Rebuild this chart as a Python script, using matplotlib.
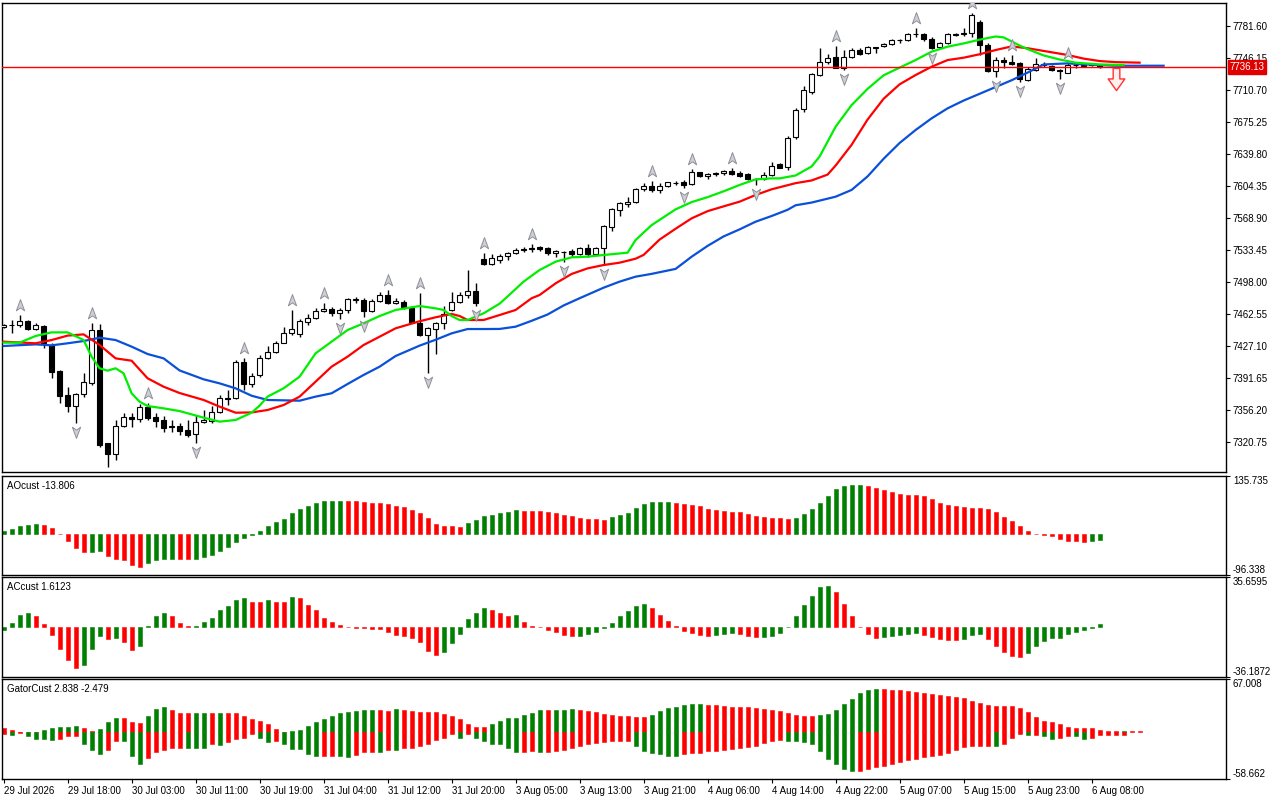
import matplotlib
matplotlib.use('Agg')
import matplotlib.pyplot as plt
import matplotlib.transforms as mtransforms
from matplotlib.path import Path
import numpy as np

plt.rcParams['font.family'] = ['Liberation Sans', 'DejaVu Sans']

# ---- price bars (H1) ----
opens = [7448.5, 7450.2, 7450.0, 7454.4, 7446.3, 7449.2, 7428.2, 7399.8, 7372.8, 7361.0,
         7373.6, 7386.5, 7444.8, 7319.3, 7307.1, 7338.8, 7348.8, 7345.9, 7359.9, 7348.8,
         7345.1, 7338.8, 7338.8, 7334.0, 7329.2, 7343.3, 7344.0, 7354.3, 7369.9, 7369.1,
         7409.7, 7384.6, 7394.5, 7413.4, 7420.8, 7430.8, 7441.9, 7440.0, 7454.0, 7457.8,
         7465.9, 7467.7, 7463.3, 7467.0, 7478.1, 7478.1, 7465.9, 7477.0, 7483.6, 7475.1,
         7476.2, 7469.6, 7452.2, 7439.3, 7445.6, 7452.2, 7467.0, 7476.2, 7483.6, 7488.0,
         7523.1, 7517.6, 7522.4, 7526.8, 7530.5, 7533.4, 7535.3, 7536.4, 7536.0, 7529.8,
         7531.2, 7532.3, 7528.7, 7535.3, 7528.7, 7535.3, 7559.3, 7577.8, 7584.0, 7586.2,
         7600.7, 7604.3, 7599.9, 7604.3, 7607.3, 7609.1, 7606.2, 7619.5, 7615.4, 7618.0,
         7618.4, 7621.3, 7619.1, 7617.3, 7611.7, 7612.1, 7616.5, 7628.7, 7625.0, 7659.0,
         7689.3, 7708.8, 7727.3, 7741.4, 7746.9, 7735.4, 7747.6, 7755.0, 7751.3, 7757.6,
         7759.4, 7761.3, 7765.7, 7766.1, 7773.1, 7772.7, 7766.8, 7758.7, 7762.4, 7772.0,
         7773.1, 7773.5, 7785.7, 7760.5, 7731.7, 7743.9, 7742.1, 7740.2, 7721.8, 7732.9,
         7738.8, 7737.3, 7732.9, 7729.9, 7738.0, 7737.6, 7738.8, 7738.0]
highs = [7451.0, 7456.0, 7461.4, 7455.9, 7452.9, 7450.5, 7430.0, 7400.5, 7382.0, 7374.7,
         7396.8, 7452.2, 7452.0, 7320.0, 7345.1, 7353.2, 7353.2, 7362.9, 7363.6, 7353.2,
         7349.5, 7345.1, 7341.4, 7345.1, 7350.7, 7356.2, 7360.6, 7372.8, 7378.4, 7411.6,
         7413.4, 7396.8, 7417.1, 7427.1, 7432.6, 7447.8, 7467.0, 7456.6, 7462.6, 7468.8,
         7474.4, 7470.7, 7468.8, 7479.9, 7481.7, 7480.6, 7478.8, 7487.3, 7489.1, 7479.9,
         7478.1, 7471.4, 7485.4, 7448.5, 7454.0, 7471.4, 7487.3, 7487.3, 7511.3, 7497.3,
         7529.8, 7529.0, 7528.6, 7531.2, 7535.3, 7537.1, 7540.1, 7537.9, 7537.1, 7533.4,
         7532.3, 7534.2, 7536.4, 7540.1, 7537.1, 7561.1, 7579.6, 7587.0, 7592.5, 7601.8,
         7607.3, 7610.0, 7608.0, 7609.1, 7610.3, 7611.0, 7622.8, 7620.2, 7619.1, 7619.5,
         7622.1, 7623.9, 7620.6, 7618.4, 7612.8, 7620.2, 7630.6, 7629.5, 7659.7, 7690.4,
         7715.1, 7729.9, 7756.9, 7750.6, 7759.4, 7755.0, 7756.9, 7756.9, 7759.8, 7758.7,
         7763.1, 7767.2, 7767.2, 7773.5, 7779.0, 7773.5, 7769.0, 7764.2, 7773.5, 7774.2,
         7779.0, 7795.6, 7788.2, 7762.4, 7746.9, 7747.6, 7749.5, 7742.1, 7736.5, 7745.8,
         7742.1, 7738.4, 7733.6, 7740.2, 7739.5, 7738.8, 7740.2, 7739.5]
lows = [7447.5, 7441.0, 7448.5, 7444.8, 7444.8, 7424.5, 7391.3, 7363.6, 7354.3, 7341.4,
        7371.0, 7383.9, 7315.6, 7293.4, 7300.8, 7337.7, 7337.7, 7343.3, 7345.1, 7337.7,
        7332.2, 7331.5, 7328.5, 7326.6, 7319.3, 7341.4, 7341.4, 7353.2, 7361.7, 7368.4,
        7378.4, 7382.0, 7393.1, 7412.7, 7419.7, 7430.0, 7439.3, 7437.4, 7450.4, 7456.6,
        7464.8, 7460.3, 7456.6, 7463.3, 7475.1, 7458.9, 7464.8, 7476.2, 7473.6, 7473.6,
        7468.5, 7452.2, 7438.2, 7396.8, 7418.2, 7445.6, 7465.9, 7475.1, 7479.9, 7471.4,
        7516.8, 7516.8, 7518.7, 7522.4, 7529.0, 7531.6, 7531.6, 7532.3, 7527.9, 7525.3,
        7520.5, 7526.1, 7527.9, 7526.1, 7527.9, 7516.8, 7554.9, 7571.1, 7581.5, 7585.2,
        7599.2, 7598.1, 7596.2, 7603.6, 7605.5, 7601.8, 7605.5, 7614.0, 7611.7, 7615.4,
        7616.9, 7616.2, 7614.7, 7611.0, 7605.5, 7611.0, 7615.4, 7623.9, 7622.1, 7656.0,
        7686.7, 7706.3, 7726.2, 7739.5, 7734.7, 7732.9, 7745.8, 7749.5, 7750.6, 7751.3,
        7758.0, 7760.2, 7762.4, 7765.4, 7769.8, 7765.4, 7755.7, 7757.6, 7761.3, 7770.5,
        7770.5, 7769.8, 7749.5, 7731.0, 7724.7, 7735.4, 7738.0, 7719.9, 7721.0, 7732.1,
        7736.5, 7732.1, 7722.5, 7729.2, 7735.4, 7735.8, 7737.3, 7735.5]
closes = [7450.0, 7450.6, 7454.4, 7446.3, 7450.0, 7430.1, 7398.7, 7372.1, 7360.6, 7373.6,
          7387.6, 7444.8, 7317.4, 7307.1, 7338.8, 7348.8, 7345.9, 7359.1, 7347.7, 7344.0,
          7336.6, 7337.4, 7333.3, 7328.5, 7343.3, 7344.8, 7354.3, 7369.9, 7368.4, 7409.7,
          7384.6, 7393.9, 7414.2, 7420.8, 7430.8, 7441.9, 7445.6, 7454.8, 7457.8, 7465.9,
          7467.7, 7463.3, 7467.0, 7478.8, 7478.8, 7465.9, 7477.0, 7483.6, 7474.4, 7477.0,
          7469.9, 7452.9, 7439.3, 7446.7, 7452.2, 7462.2, 7476.2, 7483.6, 7488.0, 7474.4,
          7517.6, 7524.2, 7526.8, 7530.5, 7533.4, 7534.6, 7534.6, 7534.5, 7529.8, 7532.3,
          7530.9, 7528.7, 7535.3, 7528.7, 7535.3, 7560.0, 7578.5, 7585.2, 7587.0, 7601.0,
          7604.3, 7599.9, 7604.3, 7608.4, 7608.0, 7605.5, 7619.5, 7615.8, 7618.0, 7618.4,
          7620.6, 7617.3, 7615.8, 7612.1, 7612.1, 7616.5, 7626.9, 7624.7, 7657.9, 7688.5,
          7710.7, 7728.4, 7741.4, 7745.8, 7735.4, 7747.6, 7755.0, 7750.6, 7758.7, 7758.0,
          7761.7, 7766.1, 7766.1, 7772.4, 7772.4, 7766.8, 7757.6, 7762.4, 7772.4, 7772.7,
          7773.8, 7793.8, 7760.5, 7732.1, 7743.9, 7741.7, 7739.5, 7722.5, 7733.6, 7739.1,
          7739.1, 7732.9, 7731.7, 7738.4, 7738.4, 7738.0, 7739.5, 7736.13]

last_price = 7736.13

# fractal bars
up_fractals = [2, 11, 18, 30, 36, 40, 48, 52, 60, 66, 81, 86, 91, 104, 114, 121, 126, 133]
down_fractals = [9, 24, 42, 45, 53, 59, 70, 75, 85, 94, 105, 116, 124, 127, 132]

# sell signal arrow
signal_bar = [139]
signal_price = [7723.0]

# ---- alligator lines (sampled along the curves, already shifted) ----
jaw_bar = [0, 4, 6, 8, 10, 12, 14, 16, 18, 20, 22, 25, 27, 29, 31, 33, 37, 39, 41, 43,
           45, 47, 49, 52, 54, 56, 58, 60, 62, 64, 66, 68, 70, 72, 75, 77, 79, 81, 84, 86,
           88, 90, 92, 94, 96, 98, 99, 101, 104, 106, 108, 110, 112, 114, 116, 118, 120, 122, 124, 126,
           128, 130, 133, 135, 137, 139, 145]
jaw_price = [7427.1, 7428.9, 7427.8, 7430.1, 7432.6, 7436.3, 7433.7, 7426.4, 7418.2, 7413.4,
             7400.0, 7390.2, 7385.7, 7380.2, 7372.0, 7367.3, 7366.5, 7371.0, 7374.7, 7385.0,
             7395.0, 7404.2, 7416.0, 7427.5, 7434.0, 7441.1, 7445.9, 7445.9, 7446.0, 7448.5,
             7455.0, 7462.0, 7472.0, 7480.0, 7491.7, 7498.4, 7503.9, 7507.0, 7512.5, 7526.0,
             7538.0, 7548.5, 7556.3, 7564.8, 7571.1, 7578.0, 7583.0, 7586.0, 7592.5, 7600.0,
             7615.0, 7634.5, 7652.0, 7666.4, 7679.3, 7690.4, 7699.0, 7706.5, 7714.0, 7721.5,
             7730.0, 7739.0, 7740.2, 7739.1, 7738.4, 7737.6, 7737.6]
teeth_bar = [0, 4, 6, 8, 10, 12, 14, 16, 18, 20, 22, 25, 27, 29, 31, 33, 35, 37, 39, 41,
             43, 45, 47, 49, 52, 54, 56, 57, 58, 60, 62, 64, 66, 67, 69, 71, 73, 75, 77, 79,
             80, 82, 84, 86, 88, 90, 92, 94, 96, 99, 101, 103, 104, 106, 108, 110, 112, 114, 116, 118,
             120, 122, 124, 126, 128, 131, 133, 135, 137, 139, 142]
teeth_price = [7431.9, 7430.1, 7433.7, 7438.6, 7440.0, 7428.2, 7413.4, 7410.8, 7391.3, 7382.0,
               7375.0, 7367.3, 7359.9, 7353.2, 7353.5, 7356.2, 7361.7, 7371.0, 7387.6, 7404.2,
               7415.3, 7428.2, 7437.4, 7446.7, 7454.5, 7458.9, 7462.6, 7460.3, 7455.9, 7455.9,
               7461.4, 7467.0, 7480.0, 7483.6, 7496.5, 7506.9, 7513.1, 7516.8, 7519.4, 7523.8,
               7528.0, 7545.0, 7557.0, 7568.5, 7576.5, 7581.8, 7587.0, 7594.4, 7600.7, 7607.5,
               7610.5, 7617.0, 7627.0, 7650.0, 7678.0, 7701.0, 7717.0, 7727.3, 7736.5, 7743.9,
               7746.5, 7750.3, 7755.0, 7759.0, 7757.0, 7752.5, 7749.5, 7745.5, 7742.8, 7741.6,
               7741.0]
lips_bar = [0, 2, 4, 6, 8, 10, 11, 12, 13, 14, 15, 16, 17, 18, 20, 22, 25, 27, 29, 31,
            32, 33, 35, 37, 39, 41, 43, 45, 47, 49, 52, 54, 55, 56, 57, 58, 60, 62, 63, 65,
            67, 69, 71, 73, 75, 78, 79, 81, 84, 86, 88, 90, 92, 94, 96, 97, 99, 101, 102, 104,
            106, 108, 110, 112, 114, 116, 118, 120, 122, 124, 125, 127, 128, 130, 132, 134, 137, 140]
lips_price = [7430.8, 7430.8, 7438.2, 7442.2, 7442.2, 7433.7, 7415.3, 7402.4, 7399.8, 7402.4,
              7396.8, 7374.7, 7365.4, 7360.6, 7358.0, 7355.0, 7347.7, 7343.3, 7345.1, 7353.2,
              7361.0, 7371.0, 7380.2, 7393.1, 7419.0, 7431.9, 7444.8, 7452.2, 7460.3, 7467.0,
              7471.4, 7468.8, 7467.0, 7460.3, 7455.9, 7455.9, 7463.3, 7474.0, 7482.0, 7498.4,
              7511.3, 7520.5, 7525.3, 7526.1, 7527.9, 7530.5, 7544.5, 7561.0, 7578.5, 7586.5,
              7592.0, 7598.5, 7605.5, 7611.7, 7612.8, 7612.8, 7616.0, 7626.0, 7637.0, 7670.0,
              7694.0, 7712.0, 7727.0, 7735.5, 7743.9, 7753.2, 7758.7, 7762.3, 7766.5, 7770.0,
              7769.0, 7760.0, 7756.0, 7749.0, 7744.5, 7741.0, 7739.0, 7738.4]

# ---- oscillators ----
ao = [6.0, 12.5, 19.5, 22.0, 23.0, 21.0, 13.0, -1.0, -16.0, -33.0,
      -42.0, -41.5, -41.0, -52.0, -58.0, -62.0, -73.0, -77.0, -68.0, -62.0,
      -59.0, -58.0, -59.0, -60.0, -58.5, -55.0, -49.0, -41.0, -31.0, -19.0,
      -9.0, -2.0, 6.0, 18.0, 27.0, 34.0, 48.0, 58.0, 66.0, 72.0,
      76.5, 77.0, 77.3, 77.0, 76.0, 74.0, 73.0, 72.0, 70.0, 66.0,
      62.0, 56.0, 48.0, 37.0, 24.0, 18.0, 17.5, 17.0, 26.0, 32.0,
      41.0, 44.5, 48.0, 51.0, 55.0, 54.5, 54.0, 53.0, 52.0, 48.0,
      45.0, 41.0, 37.0, 34.5, 34.0, 33.5, 39.0, 44.0, 49.0, 61.0,
      70.0, 74.0, 74.3, 74.5, 73.5, 69.5, 68.0, 65.0, 58.6, 57.0,
      54.7, 52.0, 50.8, 46.0, 42.0, 40.0, 37.5, 36.7, 35.0, 36.7,
      46.0, 58.6, 72.0, 89.0, 104.7, 111.7, 114.0, 114.5, 112.0, 107.0,
      102.0, 99.0, 94.5, 91.0, 90.6, 88.0, 81.0, 73.4, 68.7, 66.0,
      64.0, 61.0, 60.5, 57.8, 50.8, 40.0, 29.7, 18.8, 6.0, -1.0,
      -1.5, -6.0, -11.7, -16.4, -16.5, -18.8, -16.4, -13.806]
ac = [-2.5, 2.4, 8.4, 9.8, 7.9, 2.2, -5.7, -16.0, -24.0, -29.5,
      -27.3, -16.0, -6.5, -8.6, -8.4, -11.0, -16.5, -13.6, 0.5, 7.7,
      9.8, 7.9, 2.6, 0.2, 0.7, 3.4, 6.2, 12.0, 14.8, 19.4,
      20.8, 18.0, 17.7, 19.4, 17.7, 17.6, 21.3, 20.6, 15.6, 12.0,
      6.0, 3.1, 1.2, -0.5, -1.0, -1.2, -1.7, -1.8, -3.6, -6.0,
      -6.7, -7.9, -11.0, -17.2, -20.4, -18.2, -11.5, -5.3, 5.5, 9.8,
      13.6, 11.7, 9.8, 7.9, 8.4, 3.4, 0.7, -0.3, -2.6, -3.8,
      -5.7, -6.5, -6.4, -5.0, -3.6, -1.2, 2.9, 7.7, 11.3, 14.8,
      16.3, 13.6, 8.4, 4.1, 0.5, -2.9, -4.5, -6.0, -6.5, -5.7,
      -5.0, -4.5, -5.3, -6.7, -7.2, -7.1, -6.5, -4.5, -0.2, 7.7,
      15.6, 22.0, 28.5, 29.2, 24.9, 16.3, 7.9, -0.1, -5.0, -8.1,
      -7.2, -6.7, -6.0, -5.3, -4.8, -6.2, -7.4, -9.1, -9.6, -9.7,
      -8.9, -5.7, -5.3, -8.6, -13.6, -18.2, -20.8, -21.8, -18.9, -13.6,
      -10.1, -8.4, -7.9, -5.3, -3.6, -2.4, -0.7, 1.6123]
gator_up = [5.9, 3.4, 0.5, 0.2, 0.1, 3.4, 5.9, 7.1, 7.2, 8.4,
            5.9, 1.3, 4.6, 12.6, 18.4, 18.3, 13.4, 11.3, 21.0, 29.7,
            32.3, 28.5, 24.7, 24.6, 24.7, 24.9, 24.3, 24.7, 23.9, 23.8,
            20.0, 17.0, 13.8, 10.0, 4.6, 0.5, 1.7, 3.4, 8.4, 12.6,
            17.2, 21.0, 23.9, 25.6, 26.8, 28.5, 28.6, 28.4, 26.8, 28.8,
            28.5, 27.2, 26.0, 25.9, 25.8, 23.5, 21.0, 17.2, 10.9, 7.1,
            7.0, 10.9, 14.7, 18.4, 18.5, 22.2, 24.7, 28.5, 28.4, 28.5,
            28.6, 29.7, 28.5, 27.2, 26.0, 23.5, 22.2, 21.0, 20.9, 19.7,
            19.6, 22.2, 27.2, 31.0, 32.3, 34.8, 36.0, 36.1, 34.8, 34.7,
            33.5, 32.3, 32.2, 32.1, 31.0, 29.7, 28.5, 27.2, 24.7, 22.2,
            21.0, 20.9, 22.2, 23.5, 28.5, 36.0, 42.3, 49.9, 53.6, 54.9,
            54.8, 53.6, 53.5, 52.4, 51.1, 49.9, 48.6, 47.3, 46.1, 44.8,
            43.6, 39.8, 37.3, 34.8, 33.5, 33.4, 33.3, 31.0, 26.0, 19.7,
            14.7, 13.4, 10.9, 7.1, 5.9, 5.8, 5.7, 3.4, 2.1, 2.0,
            2.1, 2.0, 1.9]
gator_down = [-2.5, -2.9, -0.3, -5.0, -8.0, -9.0, -9.3, -8.0, -5.0, -4.2,
              -14.2, -21.8, -26.8, -22.6, -11.3, -11.4, -30.2, -39.4, -31.8, -25.1,
              -21.8, -19.3, -19.2, -19.5, -19.6, -19.8, -15.0, -15.5, -11.7, -8.0,
              -6.7, -2.0, -6.7, -12.5, -10.5, -14.2, -21.0, -21.2, -26.8, -30.2,
              -30.0, -29.9, -30.3, -30.5, -28.0, -25.0, -24.3, -25.1, -22.0, -22.3,
              -20.1, -20.0, -17.6, -15.0, -10.0, -6.7, -2.5, -6.7, -1.7, -6.7,
              -10.5, -14.2, -14.3, -19.3, -24.3, -24.2, -24.1, -24.3, -24.2, -23.0,
              -21.8, -19.3, -16.8, -14.2, -13.0, -11.7, -10.5, -10.4, -10.3, -16.8,
              -23.0, -25.6, -26.8, -29.3, -29.4, -26.8, -25.6, -25.5, -23.0, -22.9,
              -21.8, -20.5, -19.3, -18.0, -16.8, -13.0, -10.5, -9.2, -10.5, -10.6,
              -11.7, -14.2, -23.0, -33.0, -39.4, -45.7, -48.2, -48.1, -45.7, -43.2,
              -41.9, -39.4, -36.9, -34.4, -33.0, -30.6, -29.3, -28.0, -25.6, -21.8,
              -18.0, -16.8, -16.7, -16.6, -16.8, -15.0, -6.7, -1.7, -3.8, -2.9,
              -5.0, -7.9, -6.7, -5.0, -5.1, -7.9, -6.7, -3.8, -3.7, -3.6,
              -2.9]

price_ticks = [7781.60, 7746.15, 7710.70, 7675.25, 7639.80, 7604.35, 7568.90,
               7533.45, 7498.00, 7462.55, 7427.10, 7391.65, 7356.20, 7320.75]
xtick_labels = ['29 Jul 2026', '29 Jul 18:00', '30 Jul 03:00', '30 Jul 11:00', '30 Jul 19:00',
                '31 Jul 04:00', '31 Jul 12:00', '31 Jul 20:00', '3 Aug 05:00', '3 Aug 13:00',
                '3 Aug 21:00', '4 Aug 06:00', '4 Aug 14:00', '4 Aug 22:00', '5 Aug 07:00',
                '5 Aug 15:00', '5 Aug 23:00', '6 Aug 08:00']

GREEN = '#008000'
RED = '#ff0000'
FS = 7


def hist_colors(vals, first, use_abs=False):
    v = np.abs(vals) if use_abs else np.asarray(vals)
    cols = [first]
    for a, b in zip(v[:-1], v[1:]):
        cols.append(GREEN if b > a else RED)
    return cols


def edge_labels(ax, lo, hi, fmt):
    ax.yaxis.tick_right()
    ax.set_ylim(lo, hi)
    ax.set_yticks([lo, hi])
    ax.set_yticklabels([fmt.format(lo), fmt.format(hi)])
    labs = ax.get_yticklabels()
    labs[0].set_va('bottom')
    labs[1].set_va('top')
    ax.tick_params(axis='y', length=3, pad=2, labelsize=FS)


fig = plt.figure(figsize=(12.8, 8), dpi=100)
L, W = 2 / 1280, 1224 / 1280
ax = fig.add_axes([L, 1 - 472 / 800, W, 469 / 800])
ax_ao = fig.add_axes([L, 1 - 575 / 800, W, 99 / 800])
ax_ac = fig.add_axes([L, 1 - 677 / 800, W, 100 / 800])
ax_gt = fig.add_axes([L, 1 - 779 / 800, W, 100 / 800])
xlim = (-0.2, -0.2 + 1224 / 8)

# ---- main chart ----
n = len(opens)
x = np.arange(n)
o, h, l, c = map(np.array, (opens, highs, lows, closes))
ax.vlines(x, l, h, color='black', lw=1, zorder=2)
bull = c >= o
body_lo = np.minimum(o, c)
body_h = np.maximum(np.abs(c - o), 0.3)
ax.bar(x[bull], body_h[bull], bottom=body_lo[bull], width=0.6,
       color='white', edgecolor='black', lw=0.8, zorder=3)
ax.bar(x[~bull], body_h[~bull], bottom=body_lo[~bull], width=0.6,
       color='black', edgecolor='black', lw=0.8, zorder=3)

ax.plot(jaw_bar, jaw_price, color='#0a50d8', lw=1.6, zorder=4)
ax.plot(teeth_bar, teeth_price, color='#ff0000', lw=1.6, zorder=4)
ax.plot(lips_bar, lips_price, color='#00ee00', lw=1.6, zorder=4)

ax.axhline(last_price, color='#ff0000', lw=1, zorder=5)

# fractal arrows
up_path = Path([(0, 1), (0.7, -0.9), (0, -0.4), (-0.7, -0.9), (0, 1)],
               [Path.MOVETO, Path.LINETO, Path.LINETO, Path.LINETO, Path.CLOSEPOLY])
dn_path = Path([(0, -1), (0.7, 0.9), (0, 0.4), (-0.7, 0.9), (0, -1)],
               [Path.MOVETO, Path.LINETO, Path.LINETO, Path.LINETO, Path.CLOSEPOLY])
tr_up = mtransforms.offset_copy(ax.transData, fig=fig, x=0, y=10, units='dots')
tr_dn = mtransforms.offset_copy(ax.transData, fig=fig, x=0, y=-9, units='dots')
ax.plot(up_fractals, h[up_fractals], ls='none', marker=up_path, ms=8.5,
        mfc='#cfd0d6', mec='#8e9098', mew=0.7, transform=tr_up, zorder=6)
ax.plot(down_fractals, l[down_fractals], ls='none', marker=dn_path, ms=8.5,
        mfc='#cfd0d6', mec='#8e9098', mew=0.7, transform=tr_dn, zorder=6)

# sell signal
sig_path = Path([(-0.3, 1), (0.3, 1), (0.3, 0.05), (0.75, 0.05), (0, -1),
                 (-0.75, 0.05), (-0.3, 0.05), (-0.3, 1)],
                [Path.MOVETO] + [Path.LINETO] * 6 + [Path.CLOSEPOLY])
ax.plot(signal_bar, signal_price, ls='none', marker=sig_path, ms=16,
        mfc='#fff0f0', mec='#ff3030', mew=1.0, zorder=6)

ax.set_xlim(*xlim)
ax.set_ylim(7287.5, 7807.1)
ax.set_xticks([])
ax.yaxis.tick_right()
ax.set_yticks(price_ticks)
ax.set_yticklabels([f'{v:.2f}' for v in price_ticks])
ax.tick_params(axis='y', length=3, pad=2, labelsize=FS)
ax.text(1.003, last_price, f'{last_price:.2f}', color='white', fontsize=FS,
        ha='left', va='center', clip_on=False, zorder=10,
        transform=mtransforms.blended_transform_factory(ax.transAxes, ax.transData),
        bbox=dict(boxstyle='square,pad=0.18', fc='#e00000', ec='#e00000'))

# ---- AO ----
ax_ao.bar(np.arange(len(ao)), ao, width=0.5, color=hist_colors(ao, GREEN),
          edgecolor=hist_colors(ao, GREEN), lw=0.4)
ax_ao.set_xlim(*xlim)
ax_ao.set_xticks([])
edge_labels(ax_ao, -96.338, 135.735, '{:.3f}')
ax_ao.text(0.004, 0.95, 'AOcust -13.806', transform=ax_ao.transAxes,
           fontsize=FS, va='top', ha='left')

# ---- AC ----
ax_ac.bar(np.arange(len(ac)), ac, width=0.5, color=hist_colors(ac, GREEN),
          edgecolor=hist_colors(ac, GREEN), lw=0.4)
ax_ac.set_xlim(*xlim)
ax_ac.set_xticks([])
edge_labels(ax_ac, -36.1872, 35.6595, '{:.4f}')
ax_ac.text(0.004, 0.95, 'ACcust 1.6123', transform=ax_ac.transAxes,
           fontsize=FS, va='top', ha='left')

# ---- Gator ----
up_cols = hist_colors(gator_up, RED)
dn_cols = hist_colors(gator_down, RED, use_abs=True)
ax_gt.bar(np.arange(len(gator_up)), gator_up, width=0.5, color=up_cols,
          edgecolor=up_cols, lw=0.4)
ax_gt.bar(np.arange(len(gator_down)), gator_down, width=0.5, color=dn_cols,
          edgecolor=dn_cols, lw=0.4)
ax_gt.set_xlim(*xlim)
edge_labels(ax_gt, -58.662, 67.008, '{:.3f}')
ax_gt.text(0.004, 0.95, 'GatorCust 2.838 -2.479', transform=ax_gt.transAxes,
           fontsize=FS, va='top', ha='left')
ax_gt.set_xticks(np.arange(len(xtick_labels)) * 8)
ax_gt.set_xticklabels(xtick_labels, ha='left')
ax_gt.tick_params(axis='x', length=3, pad=2, labelsize=FS)

for a in (ax, ax_ao, ax_ac, ax_gt):
    for s in a.spines.values():
        s.set_color('black')
        s.set_linewidth(1)

fig.savefig('out.png', dpi=100, facecolor='white')
